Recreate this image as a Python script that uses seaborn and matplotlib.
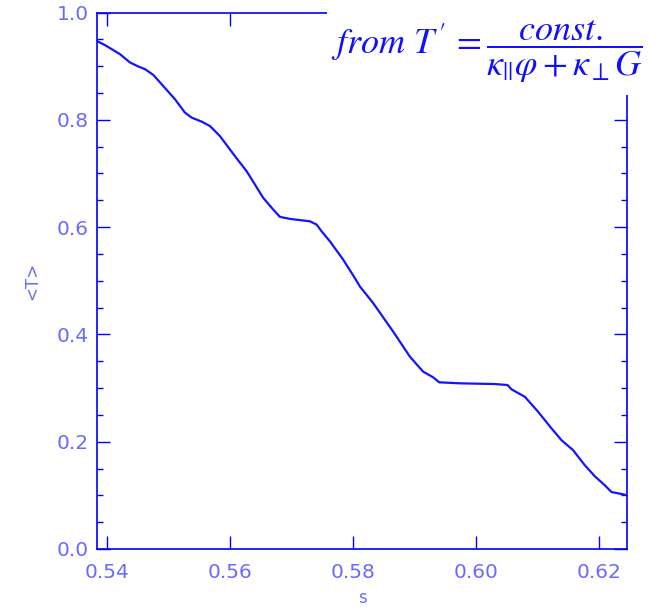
import matplotlib
matplotlib.use("Agg")
import matplotlib.pyplot as plt
from matplotlib.patches import Rectangle
from matplotlib.ticker import MultipleLocator
import numpy as np
import pandas as pd
import seaborn as sns

# data
s_vals = [0.53797, 0.53959, 0.54203, 0.54366, 0.54501, 0.54610, 0.54745, 0.54881,
          0.55098, 0.55260, 0.55369, 0.55532, 0.55667, 0.55829, 0.56073, 0.56263,
          0.56533, 0.56696, 0.56805, 0.56967, 0.57293, 0.57402, 0.57483, 0.57618,
          0.57834, 0.58024, 0.58106, 0.58322, 0.58647, 0.58919, 0.59135, 0.59298,
          0.59395, 0.59732, 0.60301, 0.60507, 0.60572, 0.60789, 0.61005, 0.61223,
          0.61385, 0.61574, 0.61764, 0.61927, 0.62089, 0.62198, 0.62415]
T_vals = [0.9486, 0.9393, 0.9224, 0.9069, 0.8994, 0.8944, 0.8837, 0.8664,
          0.8383, 0.8134, 0.8041, 0.7966, 0.7884, 0.7697, 0.7323, 0.7043,
          0.6546, 0.6327, 0.6191, 0.6153, 0.6108, 0.6047, 0.5921, 0.5735,
          0.5393, 0.5050, 0.4893, 0.4583, 0.4052, 0.3585, 0.3305, 0.3200,
          0.3107, 0.3088, 0.3075, 0.3056, 0.2976, 0.2837, 0.2557, 0.2247,
          0.2028, 0.1841, 0.1561, 0.1355, 0.1187, 0.1062, 0.1013]
x_ticks = [0.54, 0.56, 0.58, 0.60, 0.62]
y_ticks = [0.0, 0.2, 0.4, 0.6, 0.8, 1.0]

df = pd.DataFrame({"s": s_vals, "T": T_vals})

sns.set_theme(style="ticks")
plt.rcParams["font.family"] = ["DejaVu Sans"]
plt.rcParams["mathtext.fontset"] = "stix"

AXC = "#0000ff"
LBL = "#6a6aff"

fig = plt.figure(figsize=(6.49, 6.07), dpi=100)
ax = fig.add_axes([97 / 649, 1 - 549 / 607, 530 / 649, 536.5 / 607])

sns.lineplot(data=df, x="s", y="T", sort=False, ax=ax, color="#1414ff", linewidth=1.6)

ax.set_xlim(0.5383, 0.6245)
ax.set_ylim(0.0, 1.0)
ax.set_xticks(x_ticks)
ax.set_xticklabels([f"{v:.2f}" for v in x_ticks])
ax.set_yticks(y_ticks)
ax.set_yticklabels([f"{v:.1f}" for v in y_ticks])
ax.yaxis.set_minor_locator(MultipleLocator(0.05))

for sp in ax.spines.values():
    sp.set_visible(True)
    sp.set_color(AXC)
    sp.set_linewidth(1.2)

ax.tick_params(axis="both", which="major", direction="in", length=9.5, width=1.0,
               color=AXC, labelcolor=LBL, labelsize=14.5,
               top=True, right=True)
ax.tick_params(axis="y", which="minor", direction="in", length=4.5, width=1.0,
               color=AXC, left=True, right=True)
ax.tick_params(axis="x", which="major", pad=10)
ax.tick_params(axis="y", which="major", pad=6)

ax.set_xlabel("s", color=LBL, fontsize=12, labelpad=5)
ax.set_ylabel("<T>", color=LBL, fontsize=12, labelpad=11)

# white panel behind the formula (covers top-right frame like the original)
fig.patches.append(Rectangle((327 / 649, 1 - 95 / 607), 1 - 327 / 649, 95 / 607,
                             transform=fig.transFigure, facecolor="white",
                             edgecolor="none", zorder=5))
fig.text(331 / 649, 1 - 52 / 607,
         r"$\mathit{from}\ T\,'\,=\dfrac{\mathit{const.}}{\kappa_{||}\varphi+\kappa_{\perp}G}$",
         color="#1010ff", fontsize=26, ha="left", va="center", zorder=6)

fig.savefig("out.png", dpi=100, facecolor="white")
